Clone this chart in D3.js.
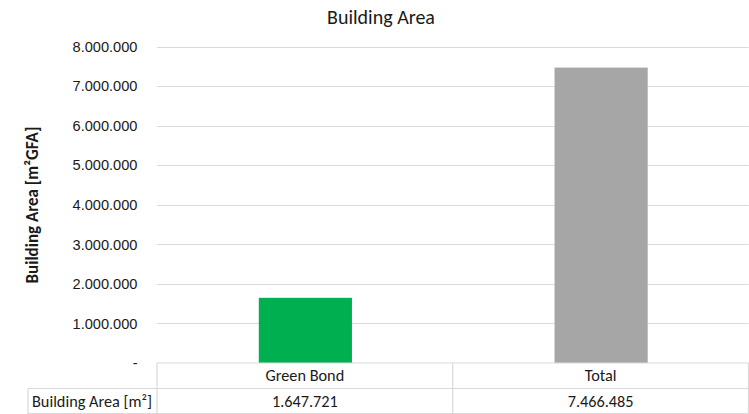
<!DOCTYPE html>
<html><head><meta charset="utf-8">
<script src="https://cdn.jsdelivr.net/npm/d3@7/dist/d3.min.js"></script>
<style>body{margin:0;background:#fff}svg{display:block;font-family:Carlito,Calibri,Lato,sans-serif}</style>
</head><body><svg id="c" width="749" height="414"></svg>
<script>
const categories = ["Green Bond", "Total"];
const values = [1647721, 7466485];
const valueLabels = ["1.647.721", "7.466.485"];
const colors = ["#00b050", "#a6a6a6"];
const tickValues = [0, 1000000, 2000000, 3000000, 4000000, 5000000, 6000000, 7000000, 8000000];
const title = "Building Area";
const yLabel = "Building Area [m²GFA]";
const rowLabel = "Building Area [m²]";

const svg = d3.select("#c");
const pL = 157, pR = 748.5, pT = 46.5, pB = 363;
const x = d3.scaleBand().domain(categories).range([pL, pR]).paddingInner(0).paddingOuter(0);
const y = d3.scaleLinear().domain([0, 8000000]).range([pB, pT]);
const fmt = v => v === 0 ? "-" : d3.format(",")(v).replace(/,/g, ".");
const txt = "#1a1a1a", grid = "#d9d9d9";

// fit font size so that text has the given width
function fit(sel, width) {
  const n = sel.node(); const fs = parseFloat(sel.attr("font-size"));
  const w = n.getComputedTextLength();
  sel.attr("font-size", (fs * width / w).toFixed(2));
}

const tt = svg.append("text").attr("x", 381).attr("y", 24).attr("text-anchor", "middle")
  .attr("font-size", 14).attr("fill", txt).text(title);
fit(tt, 108);

// gridlines
svg.append("g").selectAll("line").data(tickValues.filter(d => d > 0)).join("line")
  .attr("x1", pL).attr("x2", pR).attr("y1", d => Math.round(y(d)) + 0.5).attr("y2", d => Math.round(y(d)) + 0.5)
  .attr("stroke", grid).attr("stroke-width", 1.2);

// y axis labels
const yAxis = d3.axisLeft(y).tickValues(tickValues).tickFormat(fmt).tickSize(0).tickPadding(0);
const ga = svg.append("g").attr("transform", `translate(137.5,0)`).call(yAxis);
ga.select(".domain").remove();
ga.selectAll("text").attr("font-size", 12.5).attr("fill", txt).attr("font-family", null);
const t8 = ga.selectAll(".tick").filter(d => d === 8000000).select("text");
fit(t8, 65);
ga.selectAll("text").attr("font-size", t8.attr("font-size"));

const yl = svg.append("text").attr("transform", "translate(38,205) rotate(-90)").attr("text-anchor", "middle")
  .attr("font-size", 14).attr("font-weight", "bold").attr("fill", txt).text(yLabel);
fit(yl, 157);

// bars
const bw = x.bandwidth() * 0.315;
svg.append("g").selectAll("rect").data(categories).join("rect")
  .attr("x", (d) => x(d) + x.bandwidth() / 2 - bw / 2 + 0.5)
  .attr("width", bw)
  .attr("y", (d, i) => y(values[i]))
  .attr("height", (d, i) => pB - y(values[i]))
  .attr("fill", (d, i) => colors[i]);

// data table
const r1 = 363, r2 = 388.5, r3 = 414, tl = 28;
const tg = svg.append("g").attr("stroke", grid).attr("stroke-width", 1.2).attr("fill", "none");
tg.append("line").attr("x1", pL).attr("x2", pR).attr("y1", r1).attr("y2", r1);
tg.append("line").attr("x1", tl).attr("x2", pR).attr("y1", r2).attr("y2", r2);
tg.append("line").attr("x1", tl).attr("x2", pR).attr("y1", r3 - 0.5).attr("y2", r3 - 0.5);
tg.append("line").attr("x1", tl).attr("x2", tl).attr("y1", r2).attr("y2", r3);
tg.selectAll("line.v").data([pL, ...categories.map(c => x(c) + x.bandwidth())]).join("line")
  .attr("class", "v")
  .attr("x1", d => d).attr("x2", d => d).attr("y1", r1).attr("y2", r3);

const rl = svg.append("text").attr("x", 32).attr("y", (r2 + r3) / 2 + 5.3).attr("font-size", 12.5).attr("fill", txt).text(rowLabel);
fit(rl, 120);
const tfs = rl.attr("font-size");
svg.append("g").selectAll("text").data(categories).join("text")
  .attr("x", d => x(d) + x.bandwidth() / 2).attr("y", (r1 + r2) / 2 + 5.3)
  .attr("text-anchor", "middle").attr("font-size", tfs).attr("fill", txt).text(d => d);
svg.append("g").selectAll("text").data(categories).join("text")
  .attr("x", d => x(d) + x.bandwidth() / 2).attr("y", (r2 + r3) / 2 + 5.3)
  .attr("text-anchor", "middle").attr("font-size", tfs).attr("fill", txt).text((d, i) => valueLabels[i]);
</script></body></html>
